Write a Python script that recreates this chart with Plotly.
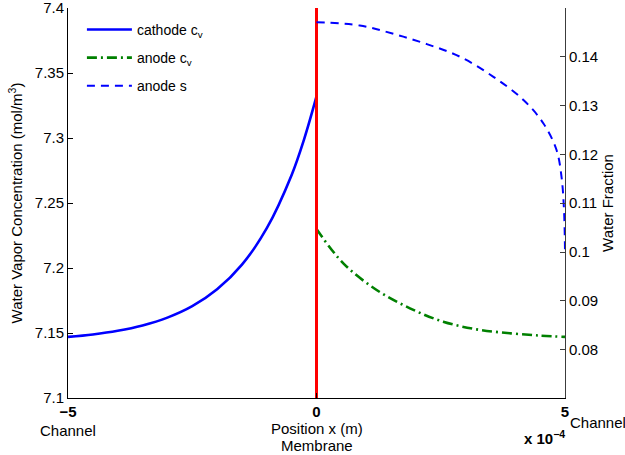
import plotly.graph_objects as go

# cathode water vapor concentration (left axis)
cath_x = [-5e-4, -4.5e-4, -4e-4, -3.5e-4, -3e-4, -2.5e-4, -2e-4, -1.5e-4, -1e-4, -0.5e-4, -0.25e-4, 0.0]
cath_cv = [7.1470, 7.1489, 7.1517, 7.1558, 7.1618, 7.1706, 7.1836, 7.2026, 7.2306, 7.2716, 7.2990, 7.3320]

# anode water vapor concentration (left axis)
an_x = [0.0, 0.54e-4, 1.21e-4, 1.88e-4, 2.55e-4, 3.22e-4, 3.89e-4, 4.5e-4, 5e-4]
an_cv = [7.2300, 7.2036, 7.1831, 7.1690, 7.1587, 7.1528, 7.1498, 7.1480, 7.1470]

# anode water fraction (right axis)
s_x = [0.0, 0.87e-4, 1.55e-4, 2.22e-4, 2.89e-4, 3.56e-4, 4.17e-4, 4.57e-4, 4.83e-4, 4.93e-4, 4.98e-4, 5e-4]
s_val = [0.1471, 0.1464, 0.1447, 0.1426, 0.1400, 0.1359, 0.1311, 0.1263, 0.1209, 0.1154, 0.1086, 0.1004]

# membrane position
mem_x = [0.0, 0.0]
mem_y = [7.1, 7.4]

x_ticks = [-5e-4, 0.0, 5e-4]
x_ticktext = ["<b>\u22125</b>", "<b>0</b>", "<b>5</b>"]
y_ticks = [7.1, 7.15, 7.2, 7.25, 7.3, 7.35, 7.4]
y_ticktext = ["7.1", "7.15", "7.2", "7.25", "7.3", "7.35", "7.4"]
y2_ticks = [0.08, 0.09, 0.10, 0.11, 0.12, 0.13, 0.14]
y2_ticktext = ["0.08", "0.09", "0.1", "0.11", "0.12", "0.13", "0.14"]

FONT = "Liberation Sans, Arial, Helvetica, sans-serif"
FS = 15

fig = go.Figure()
fig.add_trace(go.Scatter(x=cath_x, y=cath_cv, mode="lines", name="cathode c<sub>v</sub>", legendgroup="a",
                         line=dict(color="rgb(0,0,255)", width=2.6, shape="spline")))
fig.add_trace(go.Scatter(x=an_x, y=an_cv, mode="lines", name="anode c<sub>v</sub>", legendgroup="b",
                         line=dict(color="rgb(0,128,0)", width=2.6, dash="10px,4px,2px,4px", shape="spline")))
fig.add_trace(go.Scatter(x=s_x, y=s_val, mode="lines", name="anode s", yaxis="y2", legendgroup="c",
                         line=dict(color="rgb(0,0,255)", width=2, dash="8px,6px", shape="spline")))
fig.add_trace(go.Scatter(x=mem_x, y=mem_y, mode="lines", showlegend=False,
                         line=dict(color="rgb(255,0,0)", width=3)))

fig.update_layout(
    width=625, height=455,
    margin=dict(l=68, r=60, t=8, b=57, autoexpand=False),
    paper_bgcolor="white", plot_bgcolor="white",
    font=dict(family=FONT, size=FS, color="black"),
    showlegend=True,
    legend=dict(x=0.028, y=0.985, xanchor="left", yanchor="top", bgcolor="rgba(0,0,0,0)",
                borderwidth=0, font=dict(size=14), tracegroupgap=7, itemwidth=45),
    xaxis=dict(range=[-5e-4, 5e-4], tickvals=x_ticks, ticktext=x_ticktext, automargin=False,
               showline=True, linecolor="black", linewidth=1, mirror=False,
               ticks="inside", ticklen=5, tickcolor="black", showgrid=False, zeroline=False,
               tickfont=dict(size=FS), ticklabelstandoff=0, ticklabeloverflow="allow"),
    yaxis=dict(range=[7.1, 7.40001], tickvals=y_ticks, ticktext=y_ticktext, automargin=False,
               showline=True, linecolor="black", linewidth=1,
               ticks="inside", ticklen=5, tickcolor="black", showgrid=False, zeroline=False,
               tickfont=dict(size=FS), ticklabeloverflow="allow",
               title=dict(text="Water Vapor Concentration (mol/m<sup>3</sup>)", font=dict(size=FS), standoff=8)),
    yaxis2=dict(range=[0.0701, 0.15], tickvals=y2_ticks, ticktext=y2_ticktext, automargin=False,
                overlaying="y", side="right",
                showline=True, linecolor="rgb(60,60,60)", linewidth=1,
                ticks="inside", ticklen=5, tickcolor="rgb(60,60,60)", showgrid=False, zeroline=False,
                tickfont=dict(size=FS), ticklabeloverflow="allow",
                title=dict(text="Water Fraction", font=dict(size=FS), standoff=5)),
)

fig.add_annotation(x=-5e-4, y=0, xref="x", yref="paper", yshift=-32, text="Channel",
                   showarrow=False, xanchor="center", yanchor="middle", font=dict(size=FS))
fig.add_annotation(x=0, y=0, xref="x", yref="paper", yshift=-30, text="Position x (m)",
                   showarrow=False, xanchor="center", yanchor="middle", font=dict(size=FS))
fig.add_annotation(x=0, y=0, xref="x", yref="paper", yshift=-47, text="Membrane",
                   showarrow=False, xanchor="center", yanchor="middle", font=dict(size=FS))
fig.add_annotation(x=5e-4, y=0, xref="x", yref="paper", xshift=3, yshift=-24, text="Channel",
                   showarrow=False, xanchor="left", yanchor="middle", font=dict(size=FS))
fig.add_annotation(x=5e-4, y=0, xref="x", yref="paper", xshift=2, yshift=-39, text="<b>x 10<sup>\u22124</sup></b>",
                   showarrow=False, xanchor="right", yanchor="middle", font=dict(size=FS))

fig.write_html("out.html", config={"displayModeBar": False},
               post_script="document.body.style.margin='0px';")
